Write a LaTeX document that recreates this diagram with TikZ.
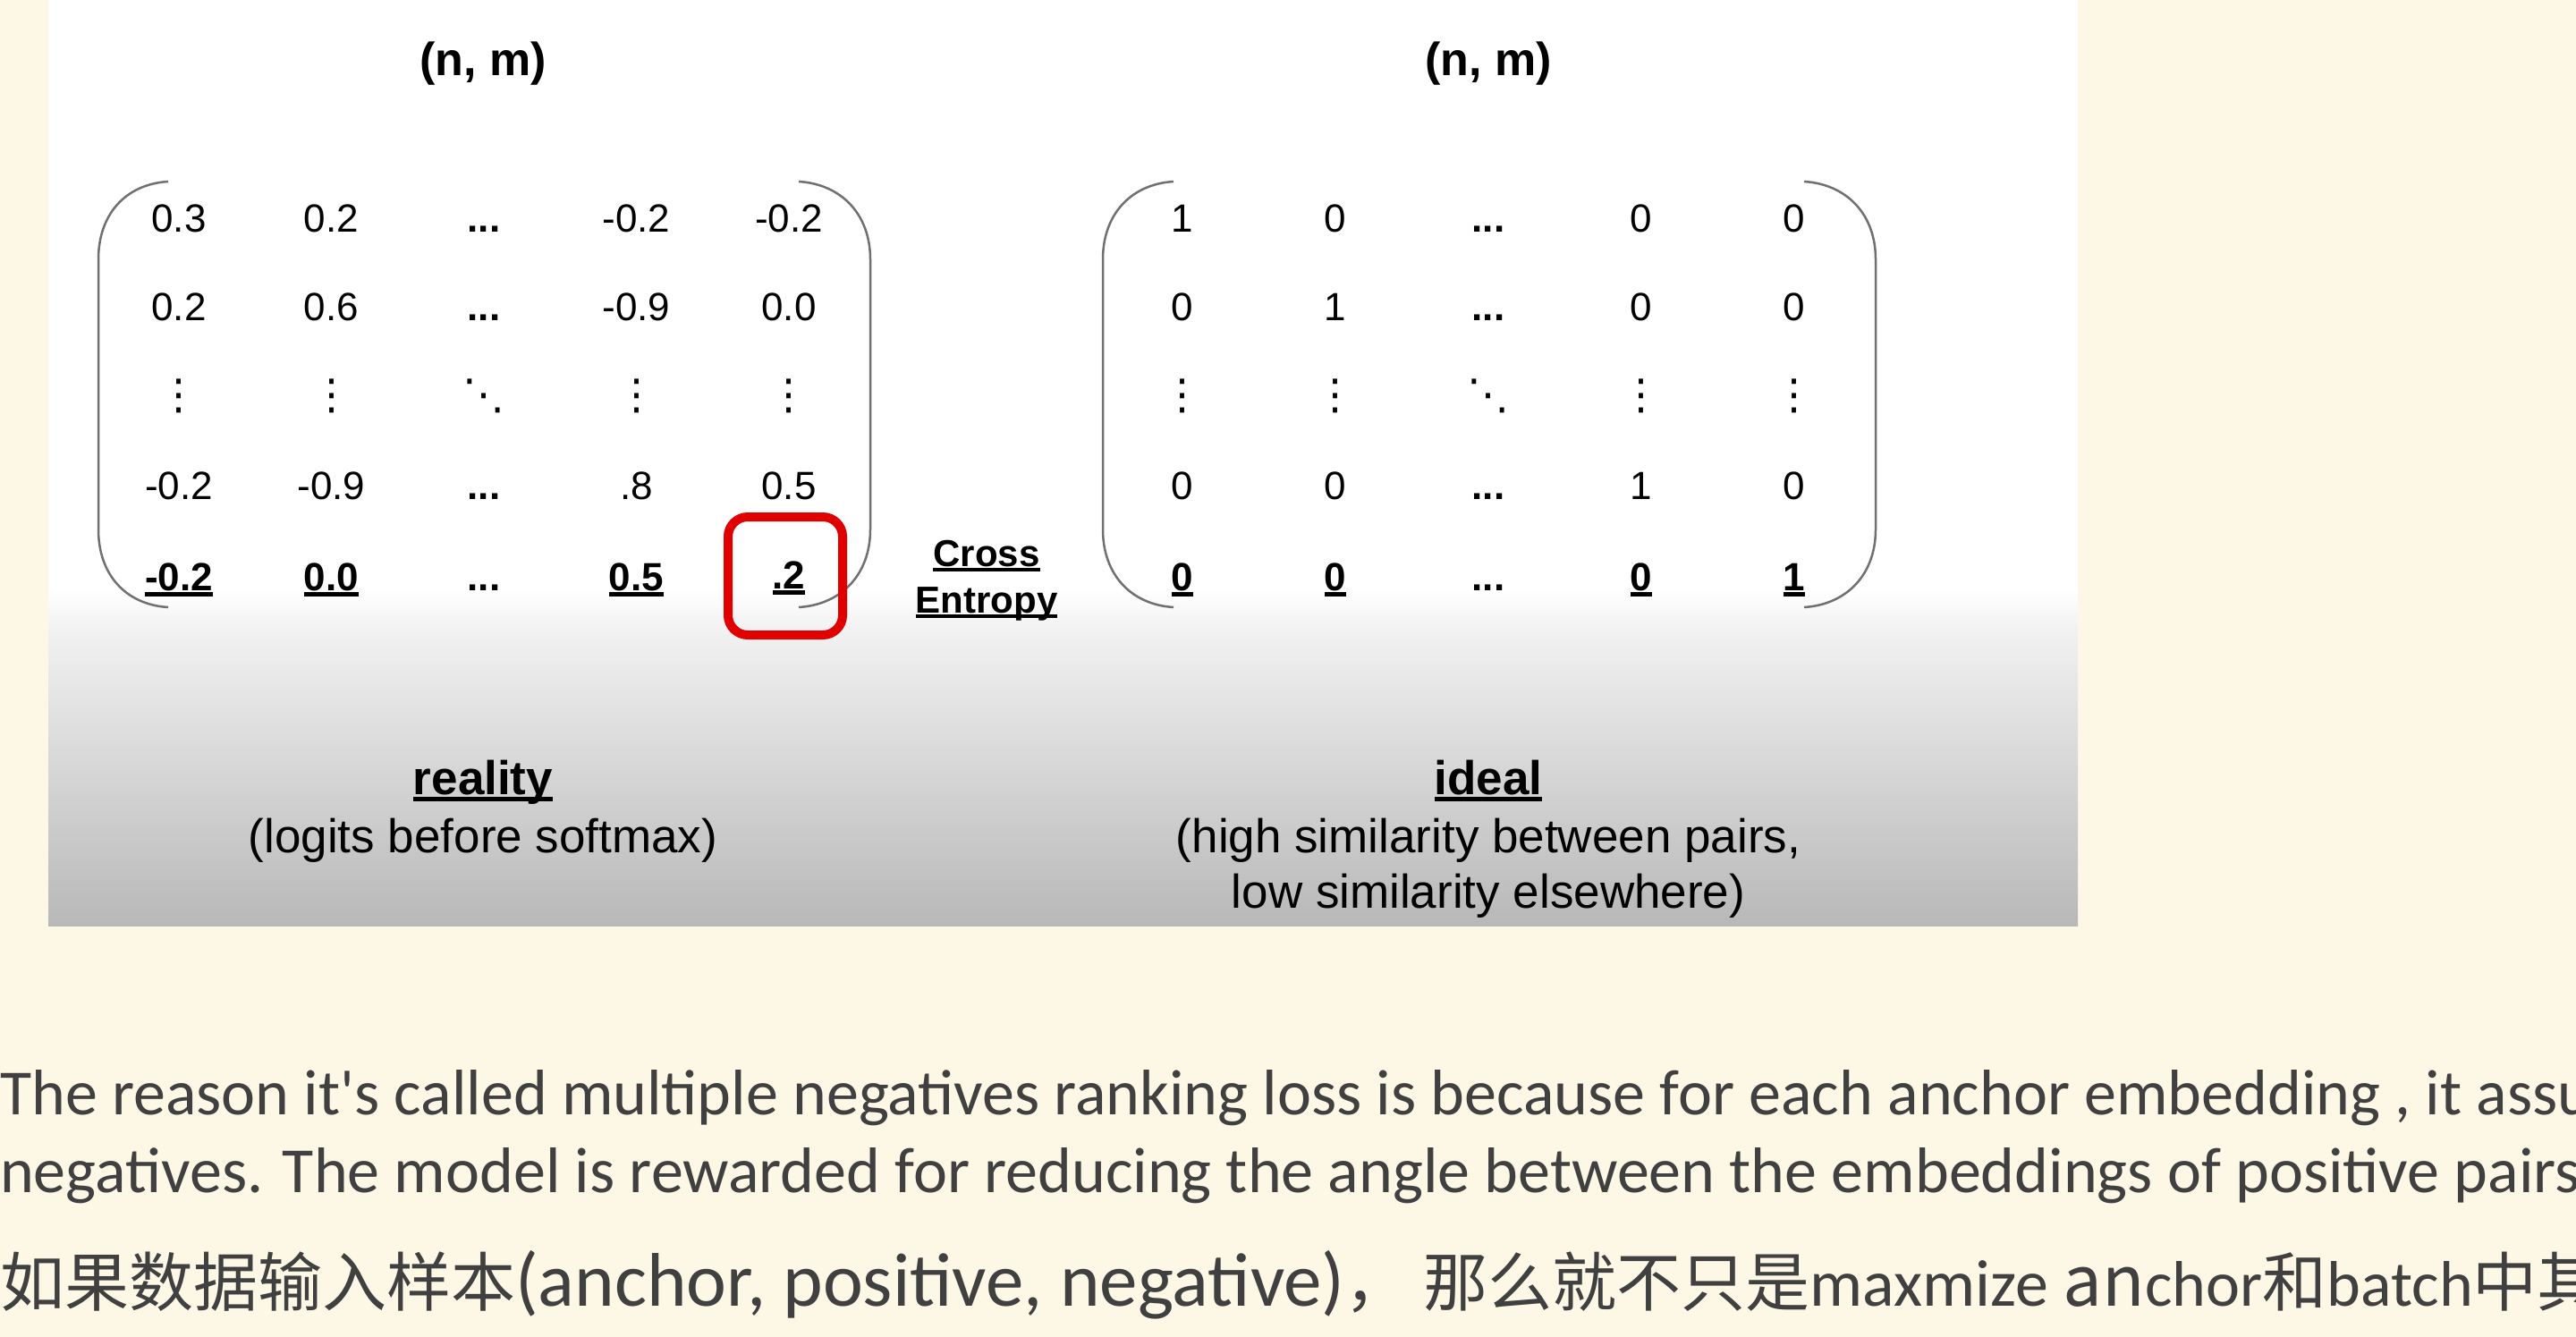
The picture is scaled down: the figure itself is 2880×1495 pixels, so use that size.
\documentclass[tikz,border=0pt]{standalone}
\usepackage{fontspec}
\setmainfont{Liberation Sans}
\newfontfamily\calfont{Carlito}
\newfontfamily\cjkfont{Noto Sans CJK SC}
\newfontfamily\dvfont{DejaVu Sans}
\definecolor{cream}{HTML}{FDF7E6}
\definecolor{txtgray}{HTML}{404040}
\definecolor{brgray}{HTML}{707070}
\definecolor{hlred}{HTML}{E00000}
\definecolor{panelmid}{HTML}{F2F2F2}
\definecolor{panelbot}{HTML}{B8B8B8}
\newsavebox\ulbox
\newcommand{\myul}[1]{\sbox\ulbox{#1}\rlap{\rule[-0.15em]{\wd\ulbox}{0.1em}}\usebox\ulbox}
\newcommand{\hd}{{\bfseries ...}}
\newcommand{\vd}{{\dvfont ⋮}}
\newcommand{\dd}{{\dvfont ⋱}}
\newcommand{\cj}[2]{{\cjkfont\fontsize{#1}{90}\selectfont #2}}
\newcommand{\ca}[2]{{\calfont\fontsize{#1}{90}\selectfont #2}}
\tikzset{
  cell/.style={anchor=base, inner sep=0pt, font=\fontsize{44}{50}\selectfont},
  bcell/.style={anchor=base, inner sep=0pt, font=\fontsize{44}{50}\selectfont\bfseries},
  dotcell/.style={anchor=center, inner sep=0pt, font=\fontsize{47}{50}\selectfont},
  title/.style={anchor=base, inner sep=0pt, font=\fontsize{52}{60}\selectfont\bfseries},
  capbold/.style={anchor=base, inner sep=0pt, font=\fontsize{53}{62}\selectfont\bfseries},
  caption/.style={anchor=base, inner sep=0pt, font=\fontsize{53}{62}\selectfont},
  ceword/.style={anchor=base, inner sep=0pt, font=\fontsize{42}{50}\selectfont\bfseries},
  bracket/.style={draw=brgray, line width=2.5pt},
  hlbox/.style={draw=hlred, line width=10pt, rounded corners=22pt, minimum width=128pt, minimum height=132pt, inner sep=0pt},
  para/.style={anchor=base west, inner sep=0pt, text=txtgray, font=\calfont\fontsize{72}{80}\selectfont},
  parab/.style={anchor=base west, inner sep=0pt, text=txtgray}
}
\begin{document}
\begin{tikzpicture}[x=1pt,y=-1pt]
\useasboundingbox (0,0) rectangle (2880,1495);
\fill[cream] (0,0) rectangle (2880,1495);
% panel
\fill[white] (54,0) rectangle (2323,661);
\shade[top color=white, bottom color=panelmid] (54,660) rectangle (2323,701);
\shade[top color=panelmid, bottom color=panelbot] (54,700) rectangle (2323,1035);

% titles
\node[title] (tL) at (540,85) {(n, m)};
\node[title] (tR) at (1664,85) {(n, m)};

% left matrix
\foreach \t [count=\c] in {0.3,0.2,\hd,-0.2,-0.2}
  \node[cell] (L-1-\c) at ({200+(\c-1)*170.5},260) {\t};
\foreach \t [count=\c] in {0.2,0.6,\hd,-0.9,0.0}
  \node[cell] (L-2-\c) at ({200+(\c-1)*170.5},359) {\t};
\foreach \t [count=\c] in {\vd,\vd,\dd,\vd,\vd}
  \node[dotcell] (L-3-\c) at ({200+(\c-1)*170.5},443) {\t};
\foreach \t [count=\c] in {-0.2,-0.9,\hd,.8,0.5}
  \node[cell] (L-4-\c) at ({200+(\c-1)*170.5},558) {\t};
\node[bcell] (L-5-1) at (200,660) {\myul{-0.2}};
\node[bcell] (L-5-2) at (370.5,660) {\myul{0.0}};
\node[cell] (L-5-3) at (541,660) {\hd};
\node[bcell] (L-5-4) at (711.5,660) {\myul{0.5}};
\node[bcell] (L-5-5) at (882,658) {\myul{.2}};

% right matrix
\foreach \t [count=\c] in {1,0,\hd,0,0}
  \node[cell] (R-1-\c) at ({1322+(\c-1)*171},260) {\t};
\foreach \t [count=\c] in {0,1,\hd,0,0}
  \node[cell] (R-2-\c) at ({1322+(\c-1)*171},359) {\t};
\foreach \t [count=\c] in {\vd,\vd,\dd,\vd,\vd}
  \node[dotcell] (R-3-\c) at ({1322+(\c-1)*171},443) {\t};
\foreach \t [count=\c] in {0,0,\hd,1,0}
  \node[cell] (R-4-\c) at ({1322+(\c-1)*171},558) {\t};
\node[bcell] (R-5-1) at (1322,660) {\myul{0}};
\node[bcell] (R-5-2) at (1493,660) {\myul{0}};
\node[cell] (R-5-3) at (1664,660) {\hd};
\node[bcell] (R-5-4) at (1835,660) {\myul{0}};
\node[bcell] (R-5-5) at (2006,660) {\myul{1}};

% brackets
\draw[bracket] (188,203) .. controls (140,206) and (110,240) .. (110,290) -- (110,592) .. controls (110,642) and (140,676) .. (188,679);
\draw[bracket] (893,203) .. controls (941,206) and (973,240) .. (973,290) -- (973,592) .. controls (973,642) and (941,676) .. (893,679);
\draw[bracket] (1312,203) .. controls (1264,206) and (1233,240) .. (1233,290) -- (1233,592) .. controls (1233,642) and (1264,676) .. (1312,679);
\draw[bracket] (2017,203) .. controls (2065,206) and (2097,240) .. (2097,290) -- (2097,592) .. controls (2097,642) and (2065,676) .. (2017,679);

% highlight
\node[hlbox] (hl) at (878,644) {};

% cross entropy
\node[ceword] (ce1) at (1103,633) {\myul{Cross}};
\node[ceword] (ce2) at (1103,685) {\myul{Entropy}};

% captions
\node[capbold] (real) at (540,888) {\myul{reality}};
\node[caption] (realsub) at (540,953) {(logits before softmax)};
\node[capbold] (ideal) at (1664,888) {\myul{ideal}};
\node[caption] (idealsub1) at (1664,953) {(high similarity between pairs,};
\node[caption] (idealsub2) at (1664,1015) {low similarity elsewhere)};

% paragraph text
\begin{scope}
\clip (0,0) rectangle (2880,1495);
\node[para] (p1) at (0,1246) {The reason it's called multiple negatives ranking loss is because for each anchor embedding , it assu};
\node[para] (p2) at (0,1333) {negatives. The model is rewarded for reducing the angle between the embeddings of positive pairs};
\node[parab] (p3) at (0,1460) {\cj{72}{如果数据输入样本}\ca{85}{(anchor, positive, negative)}\cj{72}{， 那么就不只是}\ca{74}{maxmize }\cj{78}{an}\ca{72}{chor}\cj{72}{和}\ca{72}{batch}\cj{72}{中其}};
\end{scope}
\end{tikzpicture}
\end{document}
